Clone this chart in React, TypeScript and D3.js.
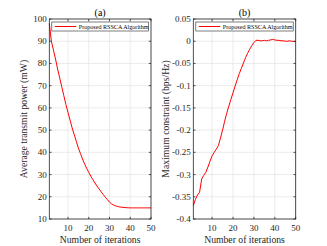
import React from 'react'
import * as d3 from 'd3'

const iterations = d3.range(1, 51)

const powerValues = [
  98, 90, 86, 82, 77.5, 73.5, 69.5, 65.5, 61.5, 58,
  54.5, 51, 48, 45, 42, 39.5, 37, 34.8, 32.8, 31,
  29.3, 27.7, 26.2, 24.8, 23.5, 22.2, 21, 19.8, 18.7, 17.6,
  16.8, 16.3, 15.9, 15.6, 15.4, 15.3, 15.2, 15.1, 15.05, 15,
  15, 15, 15, 15, 15, 15, 15, 15, 15, 15,
]

const constraintValues = [
  -0.37, -0.356, -0.346, -0.34, -0.31, -0.302, -0.295, -0.283, -0.27, -0.258,
  -0.25, -0.243, -0.235, -0.218, -0.2, -0.18, -0.162, -0.146, -0.131, -0.116,
  -0.101, -0.087, -0.073, -0.061, -0.049, -0.037, -0.027, -0.018, -0.01, -0.003,
  0.002, 0.002, 0.001, 0.001, 0.002, 0.001, 0.002, 0.003, 0.004, 0.003,
  0.002, 0.002, 0.001, 0.001, 0.0, 0.0, 0.001, 0.0, -0.0005, -0.001,
]

const xTicks = [10, 20, 30, 40, 50]
const powerTicks = [10, 20, 30, 40, 50, 60, 70, 80, 90, 100]
const constraintTicks = [0.05, 0, -0.05, -0.1, -0.15, -0.2, -0.25, -0.3, -0.35, -0.4]
const constraintTickLabels = ['0.05', '0', '-0.05', '-0.1', '-0.15', '-0.2', '-0.25', '-0.3', '-0.35', '-0.4']

const legendLabel = 'Proposed RSSCA Algorithm'
const font = "'Liberation Serif', 'Times New Roman', serif"

function Panel({ left, right, title, yLabel, yDomain, yTicks, yTickLabels, values, yLabelX }) {
  const top = 19
  const bottom = 219
  const x = d3.scaleLinear().domain([1, 50]).range([left, right])
  const y = d3.scaleLinear().domain(yDomain).range([bottom, top])
  const line = d3
    .line<number>()
    .x((_, i) => x(iterations[i]))
    .y((d) => y(d))
  const tick = 2.2
  const axisColor = '#262626'
  const gridColor = '#e6e6e6'
  const cx = (left + right) / 2

  return (
    <g style={{ fontFamily: font }}>
      {/* grid */}
      {xTicks.map((t) => (
        <line key={'gx' + t} x1={x(t)} x2={x(t)} y1={top} y2={bottom} stroke={gridColor} strokeWidth={0.8} />
      ))}
      {yTicks.map((t) => (
        <line key={'gy' + t} x1={left} x2={right} y1={y(t)} y2={y(t)} stroke={gridColor} strokeWidth={0.8} />
      ))}
      {/* data */}
      <path d={line(values) || ''} fill="none" stroke="#ff0000" strokeWidth={1} />
      {/* box */}
      <rect x={left} y={top} width={right - left} height={bottom - top} fill="none" stroke={axisColor} strokeWidth={0.8} />
      {/* ticks */}
      {xTicks.map((t) => (
        <g key={'tx' + t}>
          <line x1={x(t)} x2={x(t)} y1={bottom} y2={bottom - tick} stroke={axisColor} strokeWidth={0.8} />
          <line x1={x(t)} x2={x(t)} y1={top} y2={top + tick} stroke={axisColor} strokeWidth={0.8} />
          <text x={x(t)} y={231} textAnchor="middle" fontSize={9} fill={axisColor}>
            {t}
          </text>
        </g>
      ))}
      {yTicks.map((t, i) => (
        <g key={'ty' + t}>
          <line x1={left} x2={left + tick} y1={y(t)} y2={y(t)} stroke={axisColor} strokeWidth={0.8} />
          <line x1={right} x2={right - tick} y1={y(t)} y2={y(t)} stroke={axisColor} strokeWidth={0.8} />
          <text x={left - 2.5} y={y(t) + 3} textAnchor="end" fontSize={9} fill={axisColor}>
            {yTickLabels[i]}
          </text>
        </g>
      ))}
      {/* labels */}
      <text x={cx} y={16} textAnchor="middle" fontSize={10} fill="#000">
        {title}
      </text>
      <text x={cx} y={243} textAnchor="middle" fontSize={9.7} fill={axisColor}>
        Number of iterations
      </text>
      <text
        transform={`translate(${yLabelX},${(top + bottom) / 2}) rotate(-90)`}
        textAnchor="middle"
        fontSize={9.7}
        fill={axisColor}
      >
        {yLabel}
      </text>
      {/* legend */}
      <rect x={left + 2.5} y={22} width={right - left - 5} height={9} fill="#fff" stroke={axisColor} strokeWidth={0.6} />
      <line x1={left + 5.5} x2={left + 27} y1={26.5} y2={26.5} stroke="#ff0000" strokeWidth={1} />
      <text x={left + 29.5} y={28.7} fontSize={6.1} fill="#000">
        {legendLabel}
      </text>
    </g>
  )
}

export default function App() {
  return (
    <div style={{ position: 'absolute', left: 0, top: 0 }}>
      <svg width={327} height={246} style={{ display: 'block', background: '#fff' }}>
        <Panel
          left={49.3}
          right={151}
          title="(a)"
          yLabel="Average transmit power (mW)"
          yDomain={[10, 100]}
          yTicks={powerTicks}
          yTickLabels={powerTicks.map(String)}
          values={powerValues}
          yLabelX={27}
        />
        <Panel
          left={193.3}
          right={295.7}
          title="(b)"
          yLabel="Maximum constraint (bps/Hz)"
          yDomain={[-0.4, 0.05]}
          yTicks={constraintTicks}
          yTickLabels={constraintTickLabels}
          values={constraintValues}
          yLabelX={169}
        />
      </svg>
    </div>
  )
}
